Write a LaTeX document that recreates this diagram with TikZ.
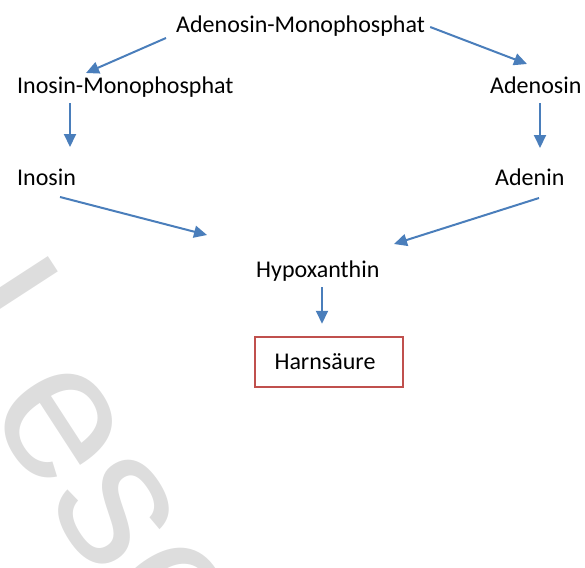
\documentclass[tikz,border=0pt]{standalone}
\usepackage{fontspec}
\setmainfont{Carlito}
\newfontfamily\wmfont{Liberation Sans}
\usetikzlibrary{arrows.meta}
\definecolor{arrblue}{RGB}{74,126,187}
\definecolor{boxred}{RGB}{192,80,77}
\definecolor{wmgray}{RGB}{221,221,221}
\tikzset{
  lbl/.style={font=\fontsize{24}{28}\selectfont, inner sep=0pt, anchor=base west},
  arr/.style={draw=arrblue, line width=2pt, -{Triangle[length=13pt,width=12pt]}},
  endbox/.style={draw=boxred, line width=2.5pt, minimum width=148pt, minimum height=50pt,
                 inner sep=0pt, font=\fontsize{24}{28}\selectfont},
  wm/.style={font=\wmfont\fontsize{196}{200}\selectfont, text=wmgray, inner sep=0pt}
}
\begin{document}
\begin{tikzpicture}[x=1pt,y=-1pt]
\useasboundingbox (0,0) rectangle (585,567);
\begin{scope}
  \clip (0,0) rectangle (585,567);
  \node[wm, anchor=base west, rotate=-57] (wmark) at (-74,316) {Leseprobe};
\end{scope}
% nodes
\node[lbl] (amp)  at (176,33)  {Adenosin-Monophosphat};
\node[lbl] (imp)  at (17,94)   {Inosin-Monophosphat};
\node[lbl] (ado)  at (490,93)  {Adenosin};
\node[lbl] (ino)  at (17,185)  {Inosin};
\node[lbl] (ade)  at (495,185) {Adenin};
\node[lbl] (hyp)  at (256,277) {Hypoxanthin};
\node[endbox] (harn) at (329,362) {\hspace*{-8pt}Harnsäure};
% connectors
\draw[arr] ([shift={(-10,5)}]amp.base west) -- ([shift={(69,-21)}]imp.base west);
\draw[arr] ([shift={(5,-6)}]amp.base east) -- ([shift={(37,-29)}]ado.base west);
\draw[arr] ([shift={(53,9)}]imp.base west) -- ([shift={(53,-38)}]ino.base west);
\draw[arr] ([shift={(50,10)}]ado.base west) -- ([shift={(45,-37)}]ade.base west);
\draw[arr] ([shift={(43,12)}]ino.base west) -- ([shift={(-49,-42)}]hyp.base west);
\draw[arr] ([shift={(44,13)}]ade.base west) -- ([shift={(138,-33)}]hyp.base west);
\draw[arr] ([shift={(66,10)}]hyp.base west) -- ([shift={(-7,-12)}]harn.north);
\end{tikzpicture}
\end{document}
